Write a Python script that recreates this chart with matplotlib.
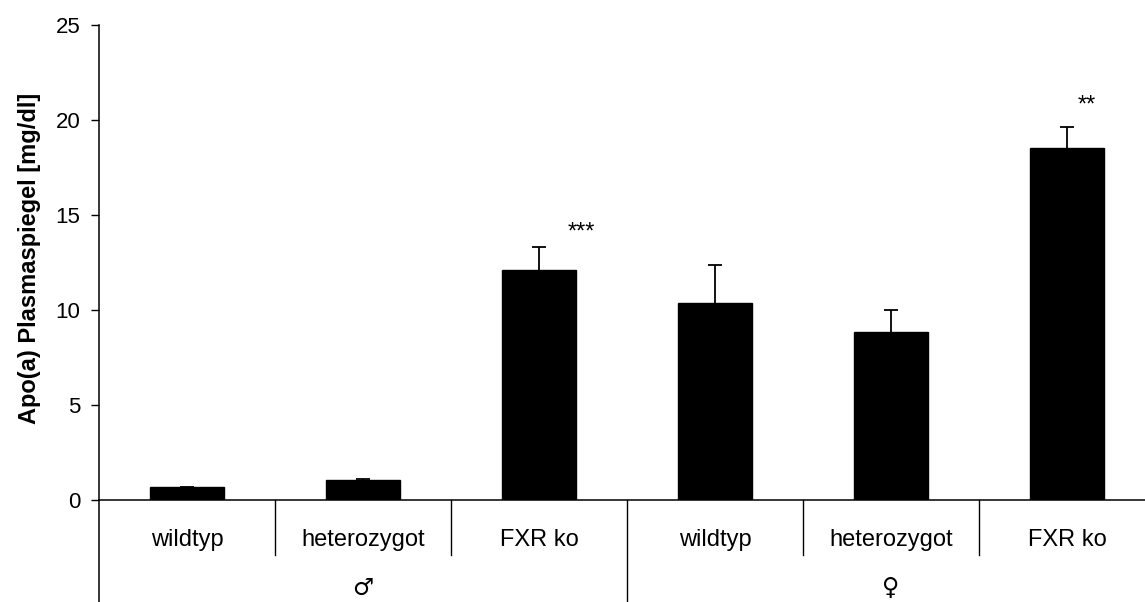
import matplotlib
matplotlib.use("Agg")
import matplotlib.pyplot as plt

plt.rcParams['font.family'] = ['Liberation Sans', 'DejaVu Sans']

# Apo(a) plasma levels by genotype and sex
genotypes = ["wildtyp", "heterozygot", "FXR ko", "wildtyp", "heterozygot", "FXR ko"]
sexes = ["\u2642", "\u2640"]
means = [0.7, 1.05, 12.1, 10.35, 8.83, 18.54]
sem = [0.0, 0.07, 1.2, 2.02, 1.19, 1.11]
star_labels = ["", "", "***", "", "", "**"]
star_heights = [0, 0, 13.75, 0, 0, 20.45]
star_offsets = [0, 0, 0.24, 0, 0, 0.11]

W, H = 1145, 602
fig = plt.figure(figsize=(W / 100, H / 100), dpi=100)
ax = fig.add_axes([99 / W, (H - 500) / H, (W - 99) / W, 475 / H])

x = list(range(len(means)))
ax.bar(x, means, width=0.42, color="black", edgecolor="black", zorder=2)
eb = ax.errorbar(x, means, yerr=[[0] * len(sem), sem], fmt="none", ecolor="black",
                 elinewidth=1.3, capsize=5, capthick=1.3, zorder=3)
# one-sided bars: hide the caps sitting on the bar tops
eb[1][0].set_visible(False)

for xi, lab, h, dx in zip(x, star_labels, star_heights, star_offsets):
    if lab:
        ax.text(xi + dx, h, lab, ha="center", va="baseline", fontsize=17)

ppu = 475 / 25.0  # pixels per data unit on the y axis
ax.set_ylim(0, 25)
ax.set_xlim(-0.5, -0.5 + (W - 99) / 176)
ax.set_yticks([0, 5, 10, 15, 20, 25])
ax.tick_params(axis="y", direction="out", length=5.5, width=1, labelsize=16, pad=8)
ax.set_xticks([])
for s in ["top", "right"]:
    ax.spines[s].set_visible(False)
for s in ["left", "bottom"]:
    ax.spines[s].set_linewidth(1.1)

# y-axis title placed in figure coordinates so tick-label widths do not shift it
fig.text(30 / W, (H - 258) / H, "Apo(a) Plasmaspiegel [mg/dl]",
         rotation=90, ha="center", va="center", fontsize=17, fontweight="bold")

# Category table below the axis
y_sep = -55 / ppu
y_bottom = -102 / ppu
ax.plot([-0.5, -0.5], [0, y_bottom], color="black", lw=1.1, clip_on=False)
for xs in [0.5, 1.5, 3.5, 4.5]:
    ax.plot([xs, xs], [0, y_sep], color="black", lw=1.0, clip_on=False)
ax.plot([2.5, 2.5], [0, y_bottom], color="black", lw=1.0, clip_on=False)

for xi, g in zip(x, genotypes):
    ax.text(xi, -40 / ppu, g, ha="center", va="center", fontsize=17)
for center, sx in zip([1, 4], sexes):
    ax.text(center, -88 / ppu, sx, ha="center", va="center", fontsize=17,
            family=["DejaVu Sans"])

fig.savefig("out.png", dpi=100)
